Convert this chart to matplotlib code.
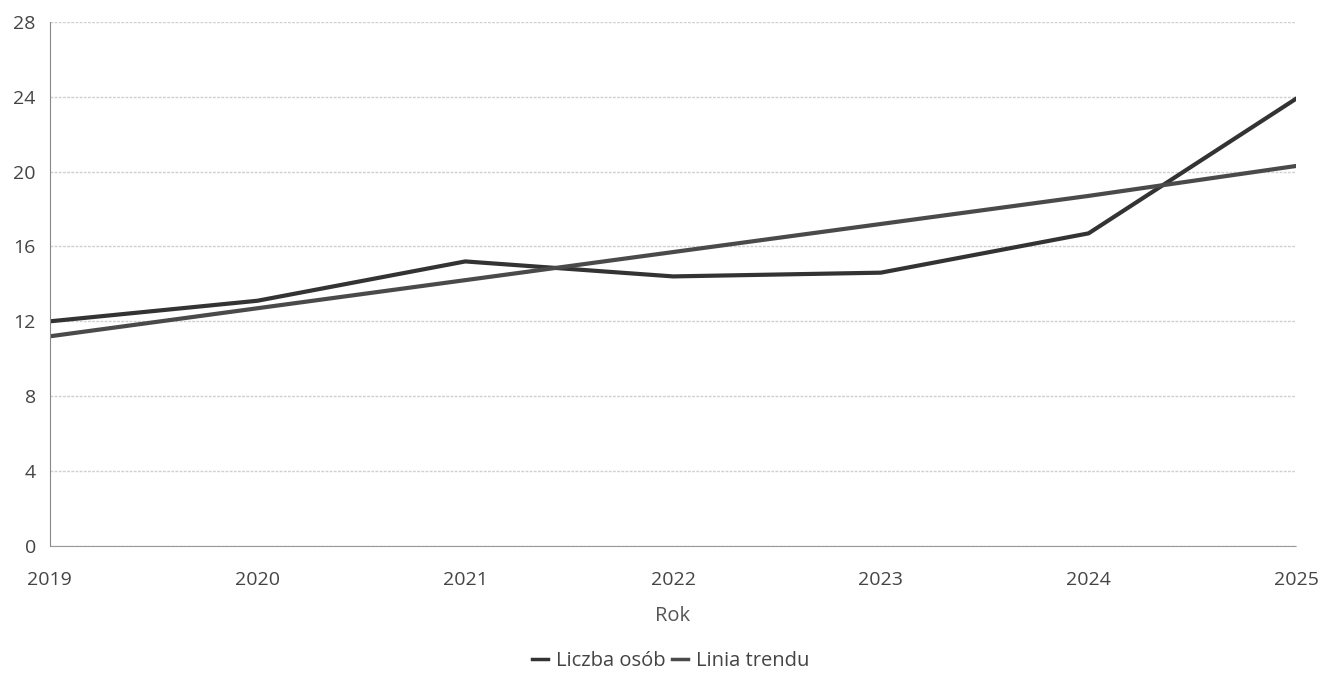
import numpy as np
import matplotlib.pyplot as plt

plt.rcParams['font.family'] = ['Open Sans', 'DejaVu Sans']

years = [2019, 2020, 2021, 2022, 2023, 2024, 2025]
liczba_osob = [12.0, 13.1, 15.2, 14.4, 14.6, 16.7, 23.9]
linia_trendu = [11.2, 12.7, 14.2, 15.7, 17.2, 18.7, 20.3]
y_ticks = [0, 4, 8, 12, 16, 20, 24, 28]

fig = plt.figure(figsize=(13.42, 6.8), dpi=100)
ax = fig.add_axes([0.037, 0.197, 0.929, 0.771])

ax.plot(years, liczba_osob, color='#333333', linewidth=3, label='Liczba osób',
        solid_joinstyle='round')
ax.plot(years, linia_trendu, color='#4a4a4a', linewidth=3, label='Linia trendu')

ax.set_xlim(2019, 2025)
ax.set_ylim(0, 28)
ax.set_yticks(y_ticks)
ax.set_xticks(years)
ax.grid(axis='y', color='#d0d0d0', linewidth=1, linestyle=(0, (2, 1)))
ax.set_axisbelow(True)

for s in ['top', 'right']:
    ax.spines[s].set_visible(False)
ax.spines['left'].set_color('#888888')
ax.spines['bottom'].set_color('#999999')
ax.spines['bottom'].set_linestyle((0, (2, 1)))

ax.tick_params(axis='both', length=0, labelsize=14, labelcolor='#444444')
ax.tick_params(axis='y', pad=10)
ax.tick_params(axis='x', pad=18)
ax.set_xlabel('Rok', fontsize=14.5, color='#555555', labelpad=12)

leg = fig.legend(loc='center', bbox_to_anchor=(0.5, 0.028), ncol=2, frameon=False,
                 fontsize=14.5, handlelength=0.8, handletextpad=0.4,
                 columnspacing=0.3, labelcolor='#444444')
for h in leg.get_lines():
    h.set_linewidth(2.5)

fig.savefig('out.png', dpi=100)
